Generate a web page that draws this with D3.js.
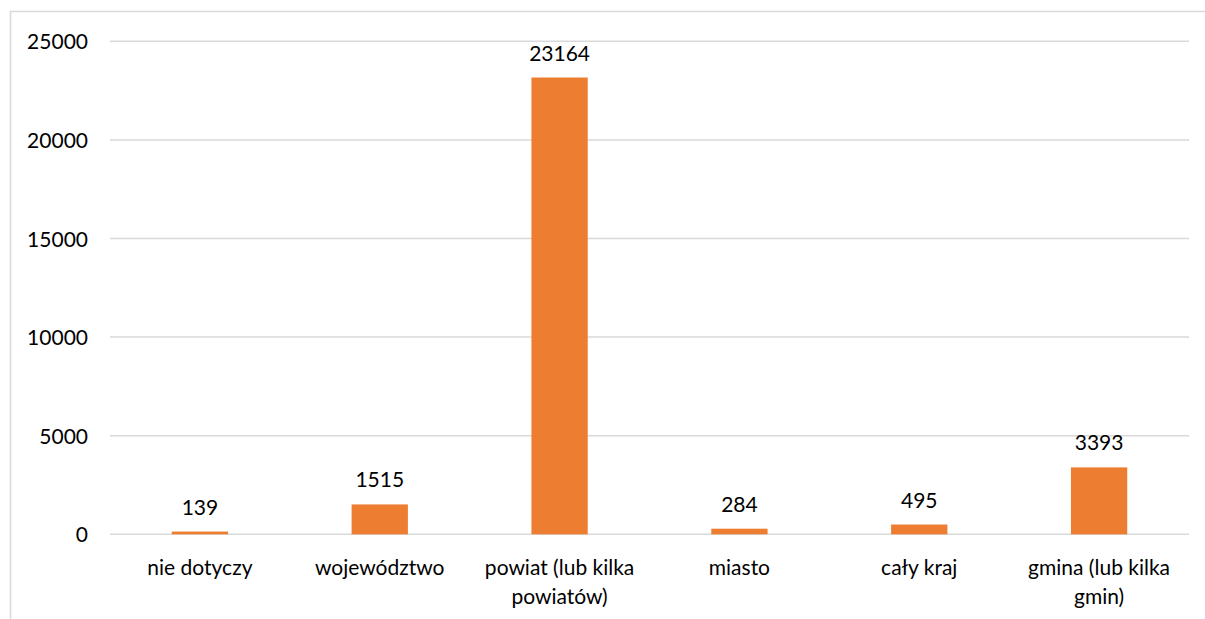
<!DOCTYPE html>
<html>
<head>
<meta charset="utf-8">
<script src="https://cdn.jsdelivr.net/npm/d3@7"></script>
<style>
  html, body { margin: 0; padding: 0; background: #fff; }
  svg { display: block; }
  text { font-family: Lato, "Open Sans", sans-serif; fill: #000; }
</style>
</head>
<body>
<svg id="chart" width="1205" height="619"></svg>
<script>
// Number of records by geographic scope
const categories = [
  "nie dotyczy",
  "województwo",
  "powiat (lub kilka powiatów)",
  "miasto",
  "cały kraj",
  "gmina (lub kilka gmin)"
];
const categoryLines = [
  ["nie dotyczy"],
  ["województwo"],
  ["powiat (lub kilka", "powiatów)"],
  ["miasto"],
  ["cały kraj"],
  ["gmina (lub kilka", "gmin)"]
];
const values = [139, 1515, 23164, 284, 495, 3393];
const yTicks = [0, 5000, 10000, 15000, 20000, 25000];

const svg = d3.select("#chart");
const W = 1205, H = 619;

// outer chart frame (extends past the right and bottom edges)
svg.append("rect")
  .attr("x", 10.5).attr("y", 11.5)
  .attr("width", W + 10).attr("height", H + 10)
  .attr("fill", "#fff")
  .attr("stroke", "#d9d9d9").attr("stroke-width", 1.5);

const plot = { left: 110, right: 1189, top: 41.3, bottom: 534.3 };

const x = d3.scaleBand()
  .domain(categories)
  .range([plot.left, plot.right])
  .paddingInner(0)
  .paddingOuter(0);

const y = d3.scaleLinear()
  .domain([0, 25000])
  .range([plot.bottom, plot.top]);

const barW = x.bandwidth() * 0.313;

// gridlines
svg.append("g")
  .selectAll("line")
  .data(yTicks)
  .join("line")
  .attr("x1", plot.left).attr("x2", plot.right)
  .attr("y1", d => y(d)).attr("y2", d => y(d))
  .attr("stroke", "#d9d9d9").attr("stroke-width", 1.5);

// y axis labels
const yAxis = d3.axisLeft(y)
  .tickValues(yTicks)
  .tickFormat(d3.format("d"))
  .tickSize(0)
  .tickPadding(0);
const gy = svg.append("g")
  .attr("transform", `translate(88,0)`)
  .call(yAxis);
gy.select(".domain").remove();
gy.selectAll("text")
  .attr("font-family", "Lato, 'Open Sans', sans-serif")
  .attr("font-size", 21)
  .attr("fill", "#000")
  .attr("dy", "0.36em");

// bars
svg.append("g")
  .selectAll("rect")
  .data(values)
  .join("rect")
  .attr("x", (d, i) => x(categories[i]) + x.bandwidth() / 2 - barW / 2)
  .attr("y", d => y(d))
  .attr("width", barW)
  .attr("height", d => y(0) - y(d))
  .attr("fill", "#ED7D31");

// value labels
svg.append("g")
  .selectAll("text")
  .data(values)
  .join("text")
  .attr("x", (d, i) => x(categories[i]) + x.bandwidth() / 2)
  .attr("y", d => y(d) - 17)
  .attr("text-anchor", "middle")
  .attr("font-size", 21)
  .text(d => d);

// category labels
const cat = svg.append("g")
  .selectAll("text")
  .data(categoryLines)
  .join("text")
  .attr("x", (d, i) => x(categories[i]) + x.bandwidth() / 2)
  .attr("y", 575)
  .attr("text-anchor", "middle")
  .attr("font-size", 21);
cat.selectAll("tspan")
  .data(d => d)
  .join("tspan")
  .attr("x", function () { return this.parentNode.getAttribute("x"); })
  .attr("dy", (d, i) => i === 0 ? 0 : 29)
  .text(d => d);
</script>
</body>
</html>
